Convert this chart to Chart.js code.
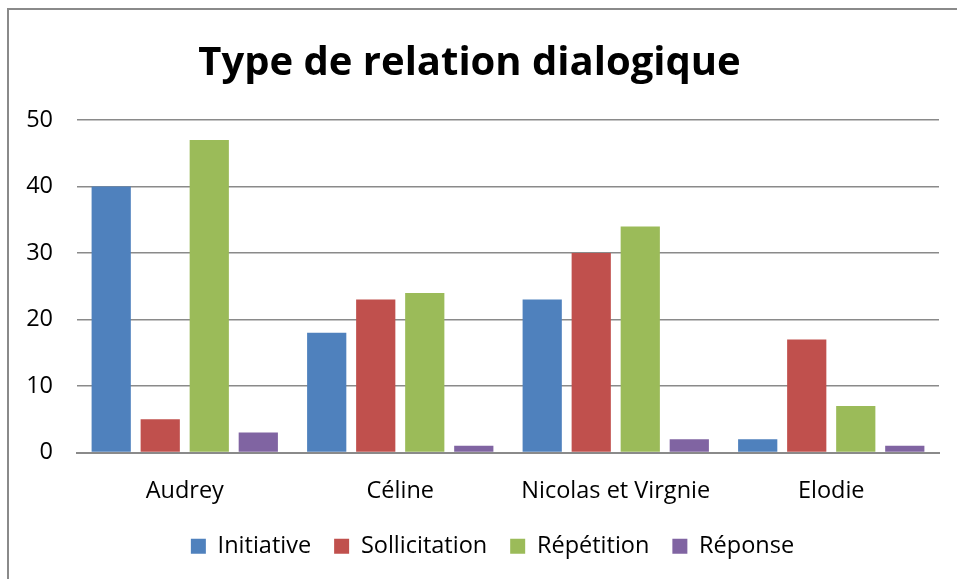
<!DOCTYPE html>
<html>
<head>
<meta charset="utf-8">
<script src="https://cdn.jsdelivr.net/npm/chart.js@4"></script>
<style>
  html, body { margin: 0; padding: 0; background: #fff; overflow: hidden; }
  #wrap { position: relative; width: 957px; height: 579px; }
  #frame {
    position: absolute; left: 7px; top: 8px; width: 1000px; height: 700px;
    border-left: 2px solid #8a8a8a; border-top: 2px solid #8a8a8a;
  }
  canvas { position: absolute; left: 0; top: 0; }
</style>
</head>
<body>
<div id="wrap">
  <div id="frame"></div>
  <canvas id="dialogChart" width="957" height="579"></canvas>
</div>
<script>
/* Type de relation dialogique — bar chart */

const CATEGORIES    = ['Audrey', 'Céline', 'Nicolas et Virgnie', 'Elodie'];
const INITIATIVE    = [40, 18, 23, 2];
const SOLLICITATION = [5, 23, 30, 17];
const REPETITION    = [47, 24, 34, 7];
const REPONSE       = [3, 1, 2, 1];
const Y_TICKS       = [0, 10, 20, 30, 40, 50];

const COLORS = {
  blue:   '#4F81BD',
  red:    '#C0504D',
  green:  '#9BBB59',
  purple: '#8064A2',
};

const FONT = "'Open Sans', sans-serif";
const TEXT_SIZE = 23.5;

Chart.defaults.font.family = FONT;
Chart.defaults.color = '#000';

// legend sits a little right of the plot centre
const legendOffset = {
  id: 'legendOffset',
  afterLayout(chart) {
    chart.legend.left += 23;
    chart.legend.right += 23;
  },
};

function series(label, data, color) {
  return {
    label, data,
    backgroundColor: color,
    borderWidth: 0,
    categoryPercentage: 0.91,
    barPercentage: 0.8,
  };
}

new Chart(document.getElementById('dialogChart'), {
  type: 'bar',
  data: {
    labels: CATEGORIES,
    datasets: [
      series('Initiative',    INITIATIVE,    COLORS.blue),
      series('Sollicitation', SOLLICITATION, COLORS.red),
      series('Répétition',    REPETITION,    COLORS.green),
      series('Réponse',       REPONSE,       COLORS.purple),
    ],
  },
  plugins: [legendOffset],
  options: {
    responsive: false,
    animation: false,
    layout: { padding: { left: 0, right: 18, top: 0, bottom: 11 } },
    plugins: {
      tooltip: { enabled: false },
      title: {
        display: true,
        text: 'Type de relation dialogique',
        font: { size: 40, weight: 'bold', family: FONT },
        color: '#000',
        padding: { top: 40, bottom: 32 },
      },
      legend: {
        position: 'bottom',
        labels: {
          font: { size: TEXT_SIZE, family: FONT },
          color: '#000',
          boxWidth: 15,
          boxHeight: 15,
          padding: 23,
        },
      },
    },
    scales: {
      x: {
        grid: { display: false, drawTicks: false },
        border: { display: true, color: '#8a8a8a', width: 2 },
        ticks: { font: { size: TEXT_SIZE, family: FONT }, color: '#000', padding: 25 },
        afterFit: s => { s.height = 59; },
      },
      y: {
        min: 0, max: 50,
        afterBuildTicks: s => { s.ticks = Y_TICKS.map(v => ({ value: v })); },
        grid: { color: '#8a8a8a', lineWidth: 1.5, drawTicks: false },
        border: { display: false },
        ticks: { font: { size: TEXT_SIZE, family: FONT }, color: '#000', padding: 24 },
        afterFit: s => { s.width = 77; },
      },
    },
  },
});
</script>
</body>
</html>
